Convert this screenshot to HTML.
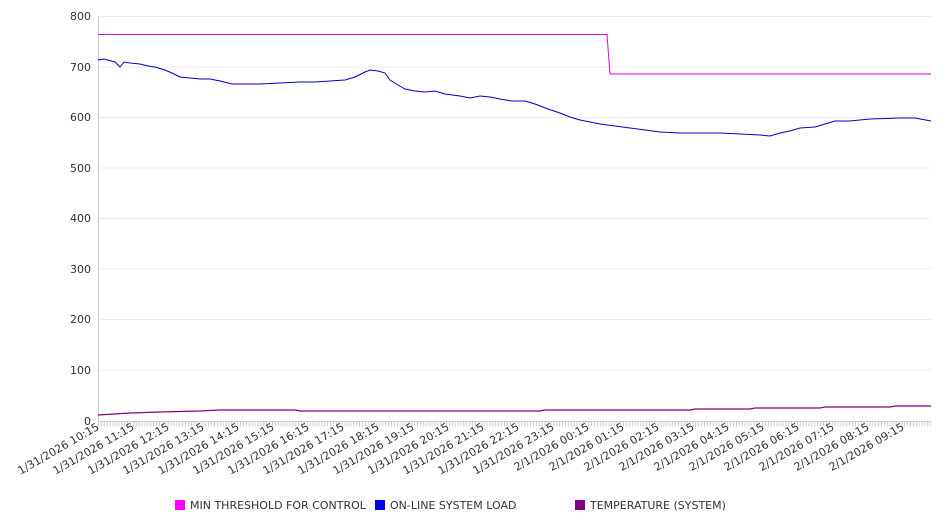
<!DOCTYPE html>
<html><head><meta charset="utf-8"><style>
body{margin:0;background:#fff;}
svg{display:block;font-family:"DejaVu Sans","Liberation Sans",sans-serif;}
</style></head><body>
<svg width="946" height="526" viewBox="0 0 946 526">
<g stroke="#ececec" stroke-width="1">
<line x1="98" y1="16.5" x2="931" y2="16.5"/><line x1="98" y1="67" x2="931" y2="67"/>
<line x1="98" y1="117.5" x2="931" y2="117.5"/><line x1="98" y1="168" x2="931" y2="168"/>
<line x1="98" y1="218.5" x2="931" y2="218.5"/><line x1="98" y1="269" x2="931" y2="269"/>
<line x1="98" y1="319.5" x2="931" y2="319.5"/><line x1="98" y1="370" x2="931" y2="370"/>
</g>
<line x1="98.5" y1="16" x2="98.5" y2="421" stroke="#ccc"/>
<line x1="98" y1="421.5" x2="931" y2="421.5" stroke="#ccc"/>
<line x1="98" y1="424" x2="931" y2="424" stroke="#ccc" stroke-width="5" stroke-dasharray="1,1.9"/>
<g font-size="11" fill="#333" text-anchor="end">
<text x="91" y="20">800</text><text x="91" y="71">700</text><text x="91" y="121">600</text>
<text x="91" y="172">500</text><text x="91" y="222">400</text><text x="91" y="273">300</text>
<text x="91" y="323">200</text><text x="91" y="374">100</text><text x="91" y="425">0</text>
</g>
<polyline fill="none" stroke="#e000e0" stroke-width="1" points="98,34.5 607,34.5 610,74 931,74"/>
<polyline fill="none" stroke="#0000cc" stroke-width="1" points="98,60 104,59 115,62 120,67 124,62 130,63 140,64 148,66 155,67 165,70 172,73 180,77 190,78 200,79 210,79 220,81 232,84 245,84 260,84 280,83 300,82 315,82 330,81 345,80 355,77 365,72 370,70 378,71 385,73 390,80 398,85 405,89 415,91 425,92 435,91 445,94 460,96 470,98 480,96 490,97 500,99 512,101 525,101 535,104 548,109 560,113 570,117 580,120 590,122 600,124 615,126 630,128 645,130 660,132 680,133 700,133 720,133 740,134 760,135 770,136 780,133 790,131 800,128 815,127 825,124 835,121 850,121 870,119 900,118 915,118 931,121"/>
<polyline fill="none" stroke="#800080" stroke-width="1.2" points="98,415 130,413 160,412 200,411 220,410 295,410 300,411 540,411 545,410 690,410 695,409 750,409 755,408 820,408 825,407 890,407 895,406 931,406"/>
<g font-size="11" fill="#333" text-anchor="end">
<text transform="translate(100,429) rotate(-30)">1/31/2026 10:15</text>
<text transform="translate(135,429) rotate(-30)">1/31/2026 11:15</text>
<text transform="translate(170,429) rotate(-30)">1/31/2026 12:15</text>
<text transform="translate(205,429) rotate(-30)">1/31/2026 13:15</text>
<text transform="translate(240,429) rotate(-30)">1/31/2026 14:15</text>
<text transform="translate(275,429) rotate(-30)">1/31/2026 15:15</text>
<text transform="translate(310,429) rotate(-30)">1/31/2026 16:15</text>
<text transform="translate(345,429) rotate(-30)">1/31/2026 17:15</text>
<text transform="translate(380,429) rotate(-30)">1/31/2026 18:15</text>
<text transform="translate(415,429) rotate(-30)">1/31/2026 19:15</text>
<text transform="translate(450,429) rotate(-30)">1/31/2026 20:15</text>
<text transform="translate(485,429) rotate(-30)">1/31/2026 21:15</text>
<text transform="translate(520,429) rotate(-30)">1/31/2026 22:15</text>
<text transform="translate(555,429) rotate(-30)">1/31/2026 23:15</text>
<text transform="translate(590,429) rotate(-30)">2/1/2026 00:15</text>
<text transform="translate(625,429) rotate(-30)">2/1/2026 01:15</text>
<text transform="translate(660,429) rotate(-30)">2/1/2026 02:15</text>
<text transform="translate(695,429) rotate(-30)">2/1/2026 03:15</text>
<text transform="translate(730,429) rotate(-30)">2/1/2026 04:15</text>
<text transform="translate(765,429) rotate(-30)">2/1/2026 05:15</text>
<text transform="translate(800,429) rotate(-30)">2/1/2026 06:15</text>
<text transform="translate(835,429) rotate(-30)">2/1/2026 07:15</text>
<text transform="translate(870,429) rotate(-30)">2/1/2026 08:15</text>
<text transform="translate(905,429) rotate(-30)">2/1/2026 09:15</text>
</g>
<g font-size="11" fill="#333">
<rect x="175" y="500" width="10" height="10" fill="#ff00ff"/><text x="190" y="509">MIN THRESHOLD FOR CONTROL</text>
<rect x="375" y="500" width="10" height="10" fill="#0000ff"/><text x="390" y="509">ON-LINE SYSTEM LOAD</text>
<rect x="575" y="500" width="10" height="10" fill="#800080"/><text x="590" y="509">TEMPERATURE (SYSTEM)</text>
</g>
</svg>
</body></html>
